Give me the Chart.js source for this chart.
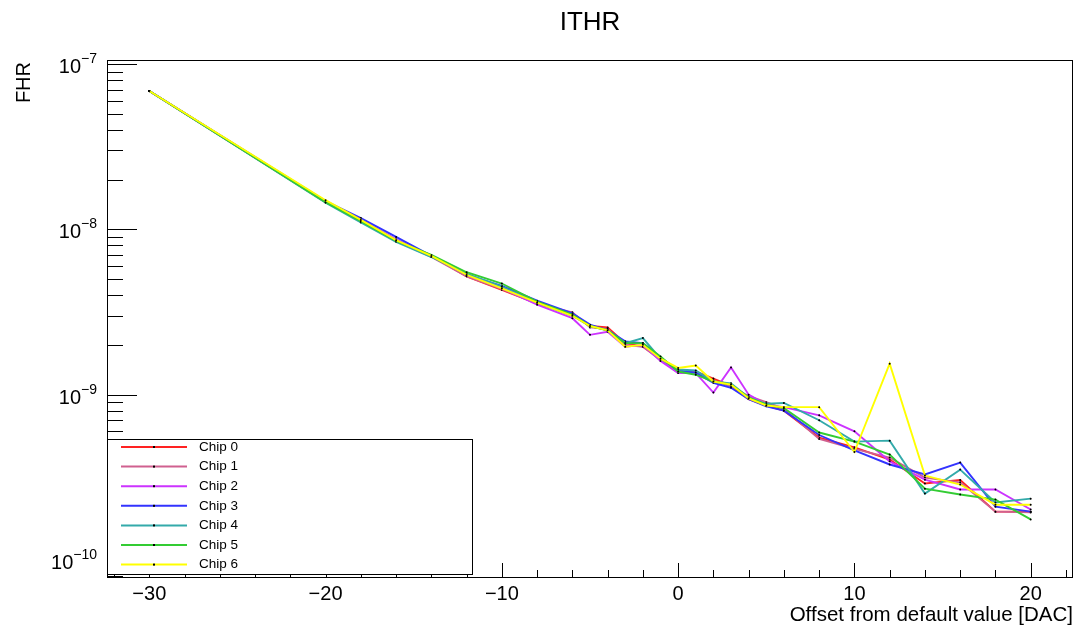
<!DOCTYPE html>
<html><head><meta charset="utf-8">
<script src="https://cdn.jsdelivr.net/npm/chart.js@4"></script>
<style>html,body{margin:0;padding:0;background:#fff;} canvas{display:block;}</style>
</head><body>
<canvas id="c" width="1077" height="630"></canvas>
<script>
const offsets = [-30,-20,-18,-16,-14,-12,-10,-8,-6,-5,-4,-3,-2,-1,0,1,2,3,4,5,6,8,10,12,14,16,18,20];
const chip0 = [6.87e-8,1.46e-8,1.14e-8,8.6e-9,6.9e-9,5.2e-9,4.3e-9,3.55e-9,3.1e-9,2.6e-9,2.55e-9,2.05e-9,1.95e-9,1.65e-9,1.36e-9,1.38e-9,1.25e-9,1.13e-9,9.4e-10,8.6e-10,8.0e-10,5.5e-10,4.8e-10,4.05e-10,2.9e-10,3.05e-10,1.96e-10,1.96e-10];
const chip1 = [6.87e-8,1.47e-8,1.13e-8,8.5e-9,6.8e-9,5.2e-9,4.35e-9,3.55e-9,3.15e-9,2.55e-9,2.5e-9,2.0e-9,1.95e-9,1.62e-9,1.37e-9,1.36e-9,1.22e-9,1.12e-9,9.8e-10,9.0e-10,8.2e-10,5.4e-10,4.7e-10,4.16e-10,3.15e-10,2.95e-10,1.96e-10,1.94e-10];
const chip2 = [6.87e-8,1.47e-8,1.14e-8,8.7e-9,6.9e-9,5.3e-9,4.4e-9,3.5e-9,2.9e-9,2.3e-9,2.4e-9,1.95e-9,2.0e-9,1.6e-9,1.35e-9,1.35e-9,1.03e-9,1.46e-9,1.0e-9,8.7e-10,8.4e-10,7.5e-10,6.0e-10,3.95e-10,3.06e-10,2.67e-10,2.67e-10,2.02e-10];
const chip3 = [6.87e-8,1.48e-8,1.17e-8,9.0e-9,6.9e-9,5.3e-9,4.55e-9,3.7e-9,3.1e-9,2.65e-9,2.45e-9,2.1e-9,2.05e-9,1.68e-9,1.4e-9,1.36e-9,1.18e-9,1.1e-9,9.4e-10,8.5e-10,8.0e-10,5.7e-10,4.6e-10,3.78e-10,3.29e-10,3.88e-10,2.1e-10,1.96e-10];
const chip4 = [6.87e-8,1.45e-8,1.10e-8,8.4e-9,6.8e-9,5.4e-9,4.5e-9,3.6e-9,3.0e-9,2.6e-9,2.45e-9,2.05e-9,2.2e-9,1.65e-9,1.42e-9,1.40e-9,1.2e-9,1.17e-9,9.6e-10,8.8e-10,8.9e-10,7.0e-10,5.2e-10,5.27e-10,2.52e-10,3.52e-10,2.23e-10,2.35e-10];
const chip5 = [6.87e-8,1.46e-8,1.12e-8,8.5e-9,7.0e-9,5.5e-9,4.7e-9,3.65e-9,3.05e-9,2.6e-9,2.45e-9,2.05e-9,2.05e-9,1.7e-9,1.38e-9,1.32e-9,1.2e-9,1.15e-9,9.6e-10,8.7e-10,8.3e-10,5.9e-10,5.2e-10,4.34e-10,2.7e-10,2.49e-10,2.32e-10,1.76e-10];
const chip6 = [6.87e-8,1.50e-8,1.14e-8,8.6e-9,6.9e-9,5.3e-9,4.4e-9,3.6e-9,3.0e-9,2.6e-9,2.45e-9,1.95e-9,2.0e-9,1.65e-9,1.45e-9,1.50e-9,1.2e-9,1.15e-9,9.5e-10,8.6e-10,8.4e-10,8.4e-10,4.5e-10,1.54e-9,3.24e-10,2.86e-10,2.16e-10,2.16e-10];
const chipLabels = ['Chip 0','Chip 1','Chip 2','Chip 3','Chip 4','Chip 5','Chip 6'];
const chipColors = ['#ff2222','#d0608f','#cc33ff','#3333ff','#33aaaa','#33cc33','#ffff00'];
const xTickValues = [-30,-20,-10,0,10,20];
const xTickLabels = ['\u221230','\u221220','\u221210','0','10','20'];
const yTickExponents = [-7,-8,-9,-10];
const titleText = 'ITHR';
const xTitle = 'Offset from default value [DAC]';
const yTitle = 'FHR';

const series = [chip0,chip1,chip2,chip3,chip4,chip5,chip6];
const FONT = "'Liberation Sans', Helvetica, Arial, sans-serif";

const datasets = series.map((vals,i)=>({
  label: chipLabels[i],
  data: offsets.map((x,j)=>({x:x, y:vals[j]})),
  borderColor: chipColors[i],
  backgroundColor: chipColors[i],
  borderWidth: 1.9,
  pointRadius: 1,
  pointHoverRadius: 0,
  pointBackgroundColor: '#000',
  pointBorderWidth: 0,
  tension: 0,
  fill: false,
  order: series.length - 1 - i
}));

function seg(ctx,x1,y1,x2,y2){ctx.beginPath();ctx.moveTo(x1,y1);ctx.lineTo(x2,y2);ctx.stroke();}

const rootStyle = {
  id: 'rootStyle',
  afterDraw(chart){
    const ctx = chart.ctx, a = chart.chartArea, xs = chart.scales.x, ys = chart.scales.y;
    ctx.save();
    ctx.strokeStyle = '#000'; ctx.fillStyle = '#000'; ctx.lineWidth = 1;
    ctx.strokeRect(Math.round(a.left)+0.5, Math.round(a.top)+0.5, Math.round(a.right-a.left)-1, Math.round(a.bottom-a.top)-1);
    for (let e=-11; e<=-7; e++){
      for (let m=1; m<=9; m++){
        const v = m*Math.pow(10,e);
        if (v < ys.min || v > ys.max) continue;
        const py = Math.round(ys.getPixelForValue(v)) + 0.5;
        seg(ctx, a.left, py, a.left + (m===1 ? 30 : 16), py);
      }
    }
    for (let v=-32; v<=22; v+=2){
      if (v < xs.min || v > xs.max) continue;
      const px = Math.round(xs.getPixelForValue(v)) + 0.5;
      seg(ctx, px, a.bottom, px, a.bottom - (v % 10 === 0 ? 15 : 8));
    }
    ctx.font = '20px ' + FONT; ctx.textAlign = 'center'; ctx.textBaseline = 'alphabetic';
    xTickValues.forEach((v,i)=>{ ctx.fillText(xTickLabels[i], xs.getPixelForValue(v), a.bottom + 22); });
    yTickExponents.forEach(e=>{
      const py = ys.getPixelForValue(Math.pow(10,e));
      const ex = '\u2212' + String(-e);
      ctx.font = '14px ' + FONT; ctx.textAlign = 'right';
      const w = ctx.measureText(ex).width;
      ctx.fillText(ex, 97, py - 1);
      ctx.font = '20px ' + FONT;
      ctx.fillText('10', 97 - w, py + 9);
    });
    ctx.font = '26px ' + FONT; ctx.textAlign = 'center';
    ctx.fillText(titleText, (a.left + a.right)/2, 30);
    ctx.font = '20.5px ' + FONT; ctx.textAlign = 'right';
    ctx.fillText(xTitle, a.right, 621);
    ctx.font = '20px ' + FONT;
    ctx.save();
    ctx.translate(30, 62); ctx.rotate(-Math.PI/2);
    ctx.textAlign = 'right'; ctx.fillText(yTitle, 0, 0);
    ctx.restore();
    const lx = 107, ly = 439, lw = 365, lh = 135;
    ctx.fillStyle = '#fff'; ctx.fillRect(lx, ly, lw, lh);
    ctx.strokeStyle = '#000'; ctx.lineWidth = 1;
    ctx.strokeRect(lx+0.5, ly+0.5, lw, lh);
    ctx.font = '13.5px ' + FONT; ctx.textAlign = 'left'; ctx.textBaseline = 'middle';
    chipLabels.forEach((lab,i)=>{
      const y = 447 + i*19.6;
      ctx.strokeStyle = chipColors[i]; ctx.lineWidth = 2;
      seg(ctx, 121, y, 187, y);
      ctx.fillStyle = '#000';
      ctx.fillRect(153, y-1, 2, 2);
      ctx.fillText(lab, 199, y);
    });
    ctx.restore();
  }
};

new Chart(document.getElementById('c'), {
  type: 'line',
  data: { datasets: datasets },
  options: {
    responsive: false,
    animation: false,
    devicePixelRatio: 1,
    events: [],
    layout: { padding: { left: 107, right: 4, top: 60, bottom: 52 } },
    scales: {
      x: { type: 'linear', min: -32.4, max: 22.4, display: false },
      y: { type: 'logarithmic', min: 7.78e-11, max: 1.057e-7, display: false }
    },
    plugins: { legend: { display: false }, title: { display: false }, tooltip: { enabled: false } }
  },
  plugins: [rootStyle]
});
</script>
</body></html>
